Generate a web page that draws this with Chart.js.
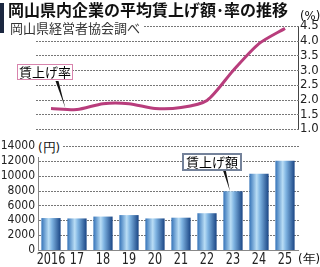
<!DOCTYPE html>
<html lang="ja">
<head>
    <meta charset="UTF-8">
    <title>岡山県内企業の平均賃上げ額・率の推移</title>
    <script src="https://cdn.jsdelivr.net/npm/chart.js"></script>
    <style>
        body {
            margin: 0;
            background: #fff;
            font-family: "Noto Sans CJK JP", sans-serif;
        }
        #wrap {
            position: relative;
            width: 320px;
            height: 267px;
            overflow: hidden;
        }
        canvas {
            position: absolute;
            left: 0;
        }
        #rateChart { top: 0; }
        #amountChart { top: 130px; }
        .txt {
            position: absolute;
            white-space: nowrap;
            color: #111;
        }
        .narrow {
            font-family: "DejaVu Sans Condensed", sans-serif;
        }
        #bar {
            position: absolute;
            left: 0;
            top: 3px;
            width: 4px;
            height: 30px;
            background: #1b2740;
        }
        #title {
            left: 8px;
            top: 0;
            font-size: 16px;
            font-weight: bold;
            line-height: 19px;
        }
        #source {
            left: 10px;
            top: 20px;
            font-size: 13px;
            line-height: 16px;
            color: #333;
            background: #fff;
            padding-right: 4px;
            z-index: 2;
        }
        .tag {
            position: absolute;
            background: #fff;
            font-size: 13px;
            line-height: 14px;
            text-align: center;
            z-index: 3;
        }
        #rateTag {
            left: 17px;
            top: 64px;
            width: 54px;
            border: 1px solid #d884ad;
        }
        #amountTag {
            left: 182px;
            top: 153px;
            width: 56px;
            border: 2px solid #74829a;
        }
    </style>
</head>
<body>
<div id="wrap">
    <canvas id="rateChart" width="320" height="140"></canvas>
    <canvas id="amountChart" width="320" height="137"></canvas>
    <div id="bar"></div>
    <div class="txt" id="title">岡山県内企業の平均賃上げ額･率の推移</div>
    <div class="txt" id="source">岡山県経営者協会調べ</div>
    <div class="txt narrow" style="left:300px;top:8px;font-size:13px;">(%)</div>
    <div class="txt narrow" style="left:38px;top:139px;font-size:13px;background:#fff;padding-right:3px;z-index:2;">(円)</div>
    <div class="txt narrow" style="left:298px;top:250px;font-size:13px;">(年)</div>
    <div class="tag" id="rateTag">賃上げ率</div>
    <div class="tag" id="amountTag">賃上げ額</div>
</div>

<script>
    // data
    const years = ['2016', '17', '18', '19', '20', '21', '22', '23', '24', '25'];
    const raiseRate = [1.70, 1.66, 1.86, 1.86, 1.70, 1.73, 1.97, 2.98, 3.90, 4.42];
    const raiseAmount = [4300, 4250, 4500, 4700, 4250, 4350, 4950, 7900, 10250, 12000];
    const rateTicks = [1.0, 1.5, 2.0, 2.5, 3.0, 3.5, 4.0, 4.5];
    const amountTicks = [0, 2000, 4000, 6000, 8000, 10000, 12000, 14000];

    const tickFont = "'DejaVu Sans Condensed', sans-serif";
    const barPct = 0.74;

    // small wedge from a label box to a point on the chart
    function wedge(ctx, bx, by, tx, ty) {
        ctx.save();
        ctx.fillStyle = '#111';
        ctx.beginPath();
        ctx.moveTo(bx - 1.5, by);
        ctx.lineTo(bx + 1.5, by);
        ctx.lineTo(tx, ty);
        ctx.closePath();
        ctx.fill();
        ctx.restore();
    }

    // dotted guide lines at the y ticks, drawn before the bars / line
    function dottedGrid(chart, from, tickValues) {
        const ys = chart.scales.y, ctx = chart.ctx;
        const right = chart.chartArea.right;
        ctx.save();
        ctx.fillStyle = '#777';
        tickValues.forEach(v => {
            const y = Math.round(ys.getPixelForValue(v));
            for (let x = from; x < right; x += 3) {
                ctx.fillRect(x, y, 2, 1);
            }
        });
        ctx.restore();
    }

    new Chart(document.getElementById('rateChart'), {
        type: 'line',
        data: {
            labels: years,
            datasets: [{
                data: raiseRate,
                borderColor: '#b83d7c',
                borderWidth: 3,
                pointRadius: 0,
                tension: 0.25,
                fill: false
            }]
        },
        options: {
            responsive: false,
            animation: false,
            layout: { padding: { left: 38, top: 26, bottom: 11, right: 0 } },
            plugins: { legend: { display: false }, tooltip: { enabled: false } },
            scales: {
                x: { display: false, offset: true },
                y: {
                    position: 'right',
                    min: 1,
                    max: 4.5,
                    afterBuildTicks: s => { s.ticks = rateTicks.map(v => ({ value: v })); },
                    afterFit: s => { s.width = 22; },
                    ticks: {
                        padding: 2,
                        autoSkip: false,
                        color: '#222',
                        font: { family: tickFont, size: 13 },
                        callback: v => v.toFixed(1)
                    },
                    grid: { display: false, drawTicks: false },
                    border: { display: true, color: '#444', width: 1 }
                }
            }
        },
        plugins: [{
            id: 'rateExtras',
            beforeDatasetsDraw(chart) {
                dottedGrid(chart, 36, rateTicks);
            },
            afterDraw(chart) {
                const xs = chart.scales.x, ys = chart.scales.y;
                const t = 0.55;
                const tx = xs.getPixelForValue(t);
                const ty = ys.getPixelForValue(raiseRate[0] + (raiseRate[1] - raiseRate[0]) * t);
                wedge(chart.ctx, 57, 81, tx, ty - 1);
            }
        }]
    });

    new Chart(document.getElementById('amountChart'), {
        type: 'bar',
        data: {
            labels: years,
            datasets: [{
                data: raiseAmount,
                barPercentage: barPct,
                categoryPercentage: 1,
                backgroundColor: (c) => {
                    const chart = c.chart;
                    const xs = chart.scales.x;
                    if (!xs || c.dataIndex === undefined) return '#5b9bd5';
                    const cx = xs.getPixelForValue(c.dataIndex);
                    const half = xs.width / years.length * barPct / 2;
                    if (!isFinite(cx) || !isFinite(half) || half <= 0) return '#5b9bd5';
                    const g = chart.ctx.createLinearGradient(cx - half, 0, cx + half, 0);
                    g.addColorStop(0, '#3573b8');
                    g.addColorStop(0.38, '#b9ddf5');
                    g.addColorStop(0.55, '#7fb4e2');
                    g.addColorStop(1, '#1a4584');
                    return g;
                }
            }]
        },
        options: {
            responsive: false,
            animation: false,
            layout: { padding: { left: 0, top: 16, bottom: 0, right: 22 } },
            plugins: { legend: { display: false }, tooltip: { enabled: false } },
            scales: {
                x: {
                    afterFit: s => { s.height = 17; },
                    ticks: { display: false },
                    grid: { display: false, drawTicks: false },
                    border: { display: true, color: '#888', width: 1 }
                },
                y: {
                    min: 0,
                    max: 14000,
                    afterBuildTicks: s => { s.ticks = amountTicks.map(v => ({ value: v })); },
                    afterFit: s => { s.width = 38; },
                    ticks: {
                        padding: 3,
                        autoSkip: false,
                        color: '#222',
                        font: { family: tickFont, size: 12 },
                        callback: v => String(v)
                    },
                    grid: { display: false, drawTicks: false },
                    border: { display: true, color: '#888', width: 1 }
                }
            }
        },
        plugins: [{
            id: 'amountExtras',
            beforeDatasetsDraw(chart) {
                dottedGrid(chart, 39, amountTicks.filter(v => v > 0));
            },
            afterDraw(chart) {
                const xs = chart.scales.x, ys = chart.scales.y, ctx = chart.ctx;
                // narrow year labels, squeezed horizontally like the original print
                ctx.save();
                ctx.fillStyle = '#222';
                ctx.font = '16px ' + tickFont;
                ctx.textAlign = 'center';
                ctx.textBaseline = 'alphabetic';
                years.forEach((lab, i) => {
                    ctx.save();
                    ctx.translate(xs.getPixelForTick(i), chart.chartArea.bottom + 14);
                    ctx.scale(0.78, 1);
                    ctx.fillText(lab, 0, 0);
                    ctx.restore();
                });
                ctx.restore();
                wedge(ctx, 224, 39, xs.getPixelForValue(7) - 3, ys.getPixelForValue(raiseAmount[7]));
            }
        }]
    });
</script>
</body>
</html>
